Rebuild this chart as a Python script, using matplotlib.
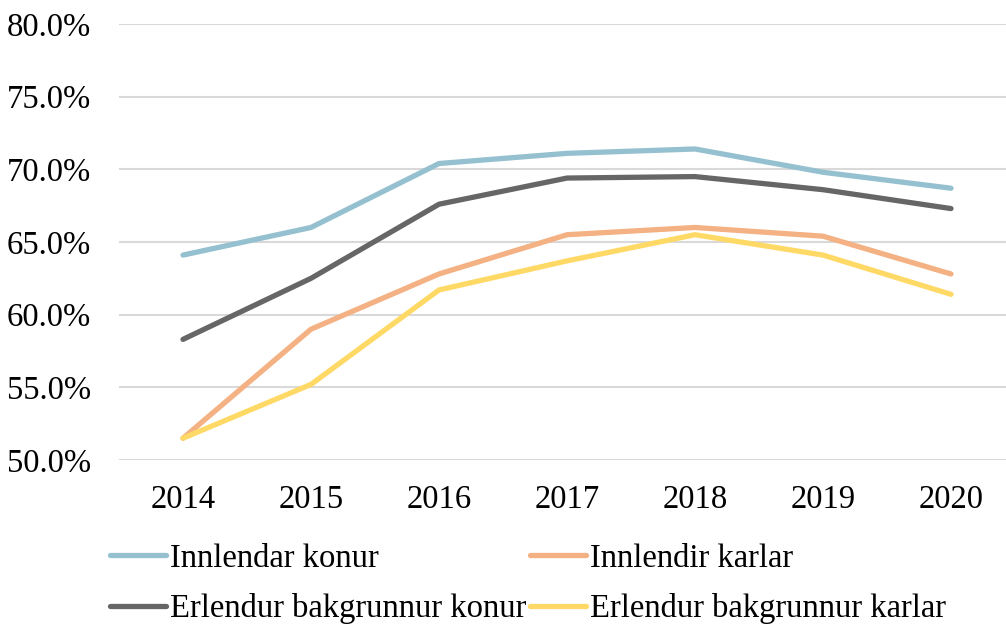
import matplotlib.pyplot as plt
from matplotlib.ticker import FuncFormatter

plt.rcParams['font.family'] = ['Liberation Serif', 'DejaVu Serif']

years = ["2014", "2015", "2016", "2017", "2018", "2019", "2020"]
innlendar_konur = [64.1, 66.0, 70.4, 71.1, 71.4, 69.8, 68.7]
innlendir_karlar = [51.5, 59.0, 62.8, 65.5, 66.0, 65.4, 62.8]
erlendur_konur = [58.3, 62.5, 67.6, 69.4, 69.5, 68.6, 67.3]
erlendur_karlar = [51.5, 55.2, 61.7, 63.7, 65.5, 64.1, 61.4]

series = [
    ("Innlendar konur", innlendar_konur, "#95c0cf"),
    ("Innlendir karlar", innlendir_karlar, "#f4b183"),
    ("Erlendur bakgrunnur konur", erlendur_konur, "#666666"),
    ("Erlendur bakgrunnur karlar", erlendur_karlar, "#ffd966"),
]

fig = plt.figure(figsize=(10.06, 6.24), dpi=100)
ax = fig.add_axes([119 / 1006, 1 - 460 / 624, 896 / 1006, 436 / 624])

x = range(len(years))
lines = {}
for label, vals, color in series:
    lines[label], = ax.plot(x, vals, color=color, linewidth=3.8, label=label,
                            solid_capstyle='round')

ax.set_xlim(-0.5, 6.5)
ax.set_ylim(50, 80)
ax.set_yticks(range(50, 81, 5))
ax.yaxis.set_major_formatter(FuncFormatter(lambda v, p: f"{v:.1f}%"))
ax.set_xticks(list(x))
ax.set_xticklabels(years)
ax.tick_params(axis='both', length=0, labelsize=23.5, colors='black')
ax.tick_params(axis='y', pad=20)
ax.tick_params(axis='x', pad=18)
ax.grid(True, axis='y', color='#d9d9d9', linewidth=1.5)
ax.set_axisbelow(True)
for s in ax.spines.values():
    s.set_visible(False)

# legend fills column-major, so order entries to get two rows as in the original
order = ["Innlendar konur", "Erlendur bakgrunnur konur",
         "Innlendir karlar", "Erlendur bakgrunnur karlar"]
fig.legend([lines[k] for k in order], order, loc='upper left',
           bbox_to_anchor=(97 / 1006, 1 - 530 / 624), ncol=2,
           frameon=False, fontsize=23.5, handlelength=1.7, handletextpad=0.15,
           columnspacing=0.1, labelspacing=0.6, borderaxespad=0)

fig.savefig("out.png", dpi=100)
